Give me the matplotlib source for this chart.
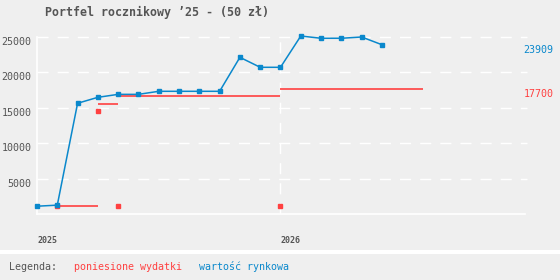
import matplotlib
matplotlib.use("Agg")
import matplotlib.pyplot as plt
from matplotlib.transforms import blended_transform_factory
from matplotlib.patches import Rectangle

# --- data (months counted from Jan 2025) ---
months = list(range(18))
market_value = [1100, 1250, 15640, 16480, 16900, 16900, 17330, 17330, 17330,
                17330, 22130, 20720, 20720, 25140, 24820, 24820, 25000, 23909]

cost_start = [1, 3, 4, 12]
cost_end = [3, 4, 12, 19]
cost_level = [1100, 15600, 16600, 17700]

cost_pt_month = [1, 3, 4, 12]
cost_pt_value = [1100, 14550, 1100, 1100]

year_ticks = [0, 12]
year_labels = ["2025", "2026"]
y_ticks = [5000, 10000, 15000, 20000, 25000]

last_value = "23909"
last_cost = "17700"

# --- style ---
BG = "#efefef"
BLUE = "#0a88cc"
RED = "#ff4040"
GRAY = "#555555"
MONO = "DejaVu Sans Mono"

fig = plt.figure(figsize=(5.6, 2.8), dpi=100, facecolor=BG)
ax = fig.add_axes([37/560, 1-214/280, 488/560, 177/280], facecolor=BG)

# grid
for v in y_ticks:
    ax.axhline(v, color="white", lw=1, dashes=(8, 6.5), xmax=1.004, clip_on=False, zorder=1)
ax.axvline(12, color="white", lw=1, dashes=(8, 6.5), zorder=1)

# costs (red)
ax.hlines(cost_level, cost_start, cost_end, color=RED, lw=1.2, zorder=2)
ax.plot(cost_pt_month, cost_pt_value, "s", color=RED, ms=3, zorder=2, clip_on=False)

# market value (blue)
ax.plot(months, market_value, "-s", color=BLUE, lw=1.1, ms=3, zorder=3, clip_on=False)

ax.set_xlim(0, 24.05)
ax.set_ylim(0, 25000)

for s in ["top", "right"]:
    ax.spines[s].set_visible(False)
for s in ["left", "bottom"]:
    ax.spines[s].set_color("white")
    ax.spines[s].set_linewidth(1.2)

ax.set_yticks(y_ticks)
ax.set_yticklabels([str(v) for v in y_ticks], family=MONO, fontsize=7.2, color=GRAY)
for lab in ax.get_yticklabels():
    lab.set_va("top")
ax.set_xticks(year_ticks)
ax.set_xticklabels(year_labels, family=MONO, fontsize=6, color=GRAY, weight="bold", ha="left")
ax.tick_params(axis="y", length=0, pad=4)
ax.tick_params(axis="x", length=0, pad=16)

# end labels on the right
tr = blended_transform_factory(ax.transAxes, ax.transData)
ax.text(0.997, 23909, last_value, transform=tr, color=BLUE, family=MONO,
        fontsize=7.2, va="top", ha="left")
ax.text(0.997, 17700, last_cost, transform=tr, color=RED, family=MONO,
        fontsize=7.2, va="top", ha="left")

# title
fig.text(45/560, 1-12/280, "Portfel rocznikowy ’25 - (50 zł)", family=MONO,
         weight="bold", fontsize=8.4, color=GRAY, va="center", ha="left")

# legend strip
fig.patches.append(Rectangle((0, 1-254/280), 1, 4/280, transform=fig.transFigure,
                             facecolor="white", edgecolor="none"))
fig.text(9/560, 1-267/280, "Legenda:", family=MONO, fontsize=7.2, color=GRAY, va="center")
fig.text(74/560, 1-267/280, "poniesione wydatki", family=MONO, fontsize=7.2, color=RED, va="center")
fig.text(199/560, 1-267/280, "wartość rynkowa", family=MONO, fontsize=7.2, color=BLUE, va="center")

fig.savefig("out.png", dpi=100, facecolor=BG)
